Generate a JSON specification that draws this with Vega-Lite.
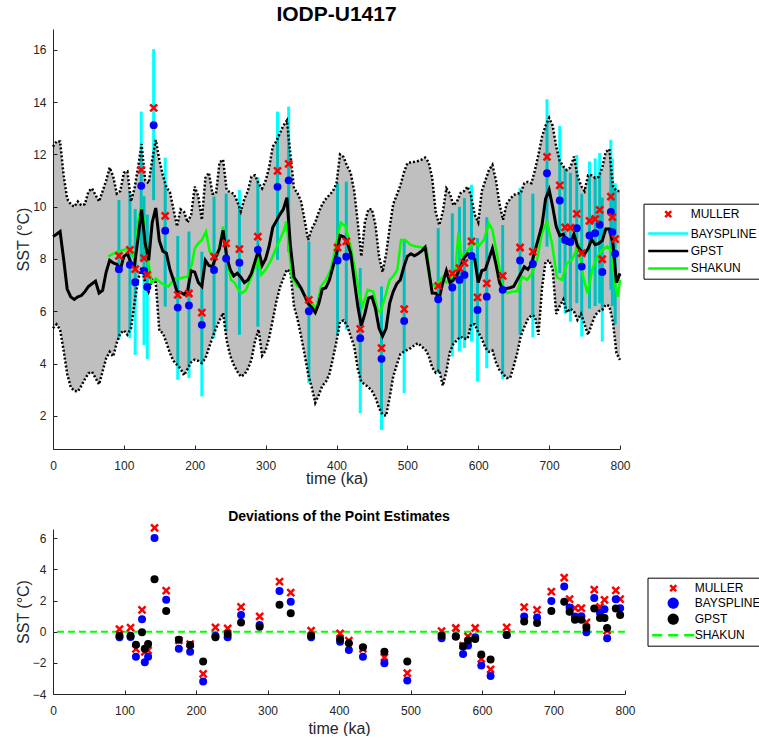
{
"$schema": "https://vega.github.io/schema/vega-lite/v6.json",
"background": "white",
"padding": {"left": 15, "top": 4, "right": 0, "bottom": 0},
"config": {
 "view": {"stroke": null},
 "font": "Liberation Sans",
 "axis": {"grid": false, "labelFlush": false, "domainColor": "#262626", "tickColor": "#262626", "labelColor": "#262626", "titleColor": "#262626", "labelFont": "Liberation Sans", "titleFont": "Liberation Sans", "labelFontSize": 12, "titleFontSize": 16, "titleFontWeight": "normal", "tickSize": -4, "domainWidth": 1, "tickWidth": 1},
 "axisX": {"labelBaseline": "alphabetic", "labelPadding": 24, "titleBaseline": "alphabetic"},
 "axisY": {"labelPadding": 11, "titleBaseline": "alphabetic", "titleAlign": "center", "titleX": -25},
 "legend": {"labelFont": "Liberation Sans", "labelFontSize": 12, "labelColor": "black", "strokeColor": "black", "fillColor": "white", "padding": 4, "cornerRadius": 0, "symbolSize": 100, "symbolStrokeWidth": 2.5}
},
"datasets": {
 "band": [
{"x":0,"lo":5.35,"hi":12.3,"g":8.86},{"x":5,"lo":5.5,"hi":12.5,"g":8.95},{"x":10,"lo":5.3,"hi":12.5,"g":9.05},{"x":15,"lo":4.5,"hi":11.2,"g":8.0},{"x":20,"lo":3.6,"hi":10.3,"g":6.85},{"x":25,"lo":3.1,"hi":10.1,"g":6.55},{"x":30,"lo":2.95,"hi":10.0,"g":6.45},{"x":35,"lo":2.93,"hi":10.2,"g":6.55},{"x":40,"lo":3.15,"hi":10.05,"g":6.6},{"x":45,"lo":3.4,"hi":10.1,"g":6.75},
{"x":50,"lo":3.63,"hi":10.58,"g":6.95},{"x":55,"lo":3.68,"hi":10.7,"g":7.05},{"x":60,"lo":3.45,"hi":10.45,"g":7.15},{"x":65,"lo":3.2,"hi":10.2,"g":6.7},{"x":70,"lo":3.7,"hi":10.6,"g":6.8},{"x":75,"lo":4.2,"hi":11.0,"g":7.5},{"x":80,"lo":4.45,"hi":11.5,"g":7.95},{"x":85,"lo":4.27,"hi":11.15,"g":7.85},{"x":90,"lo":4.8,"hi":10.5,"g":7.8},{"x":95,"lo":5.15,"hi":10.6,"g":7.6},
{"x":100,"lo":5.27,"hi":11.3,"g":8.1},{"x":105,"lo":5.1,"hi":11.35,"g":8.2},{"x":110,"lo":5.35,"hi":10.2,"g":7.85},{"x":115,"lo":6.3,"hi":10.7,"g":7.75},{"x":120,"lo":7.2,"hi":11.5,"g":8.8},{"x":125,"lo":7.7,"hi":12.4,"g":9.9},{"x":130,"lo":7.1,"hi":11.0,"g":8.6},{"x":135,"lo":6.75,"hi":10.9,"g":7.95},{"x":140,"lo":7.2,"hi":11.8,"g":9.4},{"x":145,"lo":7.1,"hi":12.55,"g":9.95},
{"x":150,"lo":5.25,"hi":11.8,"g":8.7},{"x":155,"lo":5.17,"hi":11.2,"g":8.3},{"x":160,"lo":4.8,"hi":10.75,"g":8.22},{"x":165,"lo":4.4,"hi":10.55,"g":7.6},{"x":170,"lo":4.1,"hi":9.9,"g":7.2},{"x":175,"lo":3.95,"hi":9.25,"g":6.75},{"x":180,"lo":3.8,"hi":9.9,"g":6.72},{"x":185,"lo":3.55,"hi":9.8,"g":6.65},{"x":190,"lo":3.8,"hi":9.4,"g":6.8},{"x":195,"lo":4.05,"hi":9.7,"g":7.55},
{"x":200,"lo":4.15,"hi":10.77,"g":7.5},{"x":205,"lo":4.1,"hi":10.4,"g":7.1},{"x":210,"lo":4.02,"hi":9.5,"g":6.95},{"x":215,"lo":4.2,"hi":11.1,"g":7.95},{"x":220,"lo":4.6,"hi":11.3,"g":7.75},{"x":225,"lo":5.0,"hi":10.5,"g":7.7},{"x":230,"lo":5.35,"hi":10.5,"g":8.1},{"x":235,"lo":5.65,"hi":11.7,"g":8.4},{"x":240,"lo":5.93,"hi":11.8,"g":9.1},{"x":245,"lo":4.9,"hi":10.64,"g":8.1},
{"x":250,"lo":4.3,"hi":10.55,"g":7.6},{"x":255,"lo":3.95,"hi":10.5,"g":7.35},{"x":260,"lo":3.7,"hi":10.2,"g":7.45},{"x":265,"lo":3.5,"hi":9.82,"g":7.3},{"x":270,"lo":3.58,"hi":10.3,"g":7.1},{"x":275,"lo":3.8,"hi":10.6,"g":7.2},{"x":280,"lo":4.15,"hi":11.15,"g":7.45},{"x":285,"lo":4.85,"hi":11.2,"g":7.9},{"x":290,"lo":5.3,"hi":10.9,"g":8.35},{"x":295,"lo":4.3,"hi":10.7,"g":7.75},
{"x":300,"lo":4.5,"hi":11.0,"g":8.0},{"x":305,"lo":5.0,"hi":11.5,"g":8.5},{"x":310,"lo":5.65,"hi":12.3,"g":9.2},{"x":315,"lo":6.35,"hi":12.5,"g":9.45},{"x":320,"lo":6.9,"hi":12.8,"g":9.7},{"x":325,"lo":7.25,"hi":13.1,"g":9.9},{"x":330,"lo":7.6,"hi":13.3,"g":10.35},{"x":335,"lo":7.5,"hi":12.0,"g":8.5},{"x":340,"lo":6.2,"hi":10.7,"g":7.3},{"x":345,"lo":5.7,"hi":10.52,"g":7.1},
{"x":350,"lo":5.05,"hi":10.2,"g":6.88},{"x":355,"lo":4.35,"hi":9.5,"g":6.6},{"x":360,"lo":3.6,"hi":8.73,"g":6.3},{"x":365,"lo":3.1,"hi":9.15,"g":6.15},{"x":370,"lo":2.5,"hi":9.4,"g":5.95},{"x":375,"lo":2.8,"hi":9.8,"g":6.3},{"x":380,"lo":3.15,"hi":10.1,"g":6.85},{"x":385,"lo":3.3,"hi":10.3,"g":6.9},{"x":390,"lo":3.6,"hi":10.45,"g":7.2},{"x":395,"lo":4.2,"hi":10.6,"g":7.7},
{"x":400,"lo":4.85,"hi":10.9,"g":8.2},{"x":405,"lo":5.6,"hi":12.0,"g":8.9},{"x":410,"lo":5.65,"hi":11.9,"g":8.85},{"x":415,"lo":5.45,"hi":11.55,"g":8.65},{"x":420,"lo":5.05,"hi":11.3,"g":8.22},{"x":425,"lo":4.65,"hi":10.6,"g":7.2},{"x":430,"lo":3.8,"hi":9.4,"g":6.2},{"x":435,"lo":3.3,"hi":8.1,"g":5.45},{"x":440,"lo":3.2,"hi":9.4,"g":5.9},{"x":445,"lo":3.1,"hi":9.9,"g":6.5},
{"x":450,"lo":2.95,"hi":9.9,"g":6.55},{"x":455,"lo":2.7,"hi":9.3,"g":6.1},{"x":460,"lo":2.3,"hi":8.1,"g":5.35},{"x":465,"lo":2.05,"hi":7.5,"g":5.05},{"x":470,"lo":2.0,"hi":8.2,"g":5.35},{"x":475,"lo":2.7,"hi":9.2,"g":6.3},{"x":480,"lo":3.5,"hi":10.1,"g":6.75},{"x":485,"lo":3.95,"hi":10.45,"g":7.05},{"x":490,"lo":4.35,"hi":10.8,"g":7.2},{"x":495,"lo":4.45,"hi":11.3,"g":7.7},
{"x":500,"lo":4.52,"hi":11.66,"g":8.1},{"x":505,"lo":4.6,"hi":11.7,"g":8.2},{"x":510,"lo":4.7,"hi":11.72,"g":8.12},{"x":515,"lo":4.78,"hi":11.75,"g":8.2},{"x":520,"lo":4.65,"hi":11.8,"g":8.3},{"x":525,"lo":4.55,"hi":11.88,"g":8.45},{"x":530,"lo":4.3,"hi":11.7,"g":7.6},{"x":535,"lo":3.85,"hi":11.1,"g":6.7},{"x":540,"lo":3.65,"hi":9.8,"g":6.69},{"x":545,"lo":3.75,"hi":9.3,"g":6.5},
{"x":550,"lo":3.15,"hi":9.8,"g":7.1},{"x":555,"lo":3.7,"hi":10.7,"g":7.55},{"x":560,"lo":4.45,"hi":10.5,"g":7.1},{"x":565,"lo":4.75,"hi":10.05,"g":7.2},{"x":570,"lo":4.9,"hi":10.2,"g":7.4},{"x":575,"lo":5.03,"hi":10.52,"g":7.7},{"x":580,"lo":4.95,"hi":10.6,"g":8.05},{"x":585,"lo":4.95,"hi":10.77,"g":8.2},{"x":590,"lo":5.5,"hi":10.4,"g":8.1},{"x":595,"lo":5.5,"hi":9.7,"g":8.0},
{"x":600,"lo":5.2,"hi":9.4,"g":7.1},{"x":605,"lo":4.95,"hi":10.6,"g":7.55},{"x":610,"lo":4.6,"hi":11.0,"g":7.6},{"x":615,"lo":4.45,"hi":11.4,"g":8.0},{"x":620,"lo":4.5,"hi":11.6,"g":8.4},{"x":625,"lo":4.05,"hi":11.0,"g":7.8},{"x":630,"lo":3.75,"hi":10.1,"g":7.1},{"x":635,"lo":3.6,"hi":9.5,"g":6.82},{"x":640,"lo":3.45,"hi":10.1,"g":6.87},{"x":645,"lo":3.45,"hi":10.3,"g":6.9},
{"x":650,"lo":3.9,"hi":10.45,"g":6.95},{"x":655,"lo":4.4,"hi":10.5,"g":7.2},{"x":660,"lo":5.05,"hi":10.52,"g":7.45},{"x":665,"lo":5.4,"hi":10.9,"g":7.7},{"x":670,"lo":5.7,"hi":10.95,"g":7.6},{"x":675,"lo":5.85,"hi":10.9,"g":7.8},{"x":680,"lo":5.8,"hi":11.4,"g":8.3},{"x":685,"lo":5.1,"hi":12.0,"g":8.8},{"x":690,"lo":6.9,"hi":12.68,"g":9.3},{"x":695,"lo":7.9,"hi":13.1,"g":10.3},
{"x":700,"lo":7.95,"hi":13.4,"g":10.65},{"x":705,"lo":7.6,"hi":13.1,"g":10.0},{"x":710,"lo":5.9,"hi":12.3,"g":9.24},{"x":715,"lo":6.2,"hi":11.75,"g":8.9},{"x":720,"lo":6.45,"hi":11.54,"g":8.95},{"x":725,"lo":5.95,"hi":11.4,"g":8.6},{"x":730,"lo":6.1,"hi":11.5,"g":8.6},{"x":735,"lo":6.0,"hi":11.92,"g":8.95},{"x":740,"lo":5.67,"hi":11.2,"g":8.5},{"x":745,"lo":5.9,"hi":10.8,"g":8.3},
{"x":750,"lo":5.5,"hi":10.6,"g":8.2},{"x":755,"lo":5.1,"hi":11.2,"g":8.4},{"x":760,"lo":5.5,"hi":11.2,"g":8.75},{"x":765,"lo":5.85,"hi":11.1,"g":8.55},{"x":770,"lo":6.0,"hi":11.15,"g":8.6},{"x":775,"lo":6.05,"hi":11.5,"g":8.7},{"x":780,"lo":6.25,"hi":12.1,"g":9.15},{"x":785,"lo":6.2,"hi":12.2,"g":9.15},{"x":790,"lo":5.6,"hi":10.8,"g":8.6},{"x":795,"lo":4.4,"hi":10.6,"g":7.1},
{"x":800,"lo":4.14,"hi":10.6,"g":7.45}
 ],
 "shakun": [
{"x":78,"v":8.1},{"x":85,"v":8.2},{"x":92,"v":8.3},{"x":100,"v":8.35},{"x":107,"v":8.41},{"x":112,"v":8.2},{"x":116,"v":7.9},{"x":120,"v":9.4},{"x":124,"v":9.94},{"x":128,"v":9.5},{"x":131,"v":8.3},{"x":135,"v":7.8},{"x":139,"v":7.1},{"x":145,"v":7.25},{"x":153,"v":7.07},{"x":163,"v":6.95},{"x":172,"v":7.26},{"x":180,"v":7.26},{"x":190,"v":7.33},{"x":196,"v":7.8},{"x":200,"v":8.4},{"x":205,"v":8.6},{"x":210,"v":8.73},{"x":216,"v":9.05},{"x":221,"v":8.3},{"x":226,"v":8.1},{"x":233,"v":8.15},{"x":240,"v":9.24},{"x":245,"v":8.2},{"x":251,"v":7.2},{"x":256,"v":7.1},{"x":262,"v":6.8},{"x":266,"v":6.69},{"x":272,"v":6.8},{"x":280,"v":7.33},{"x":289,"v":8.0},{"x":294,"v":7.4},{"x":300,"v":7.6},{"x":308,"v":7.97},{"x":313,"v":8.3},{"x":320,"v":8.73},{"x":326,"v":9.1},{"x":329,"v":9.43},{"x":333,"v":8.5},{"x":337,"v":7.3},{"x":345,"v":6.95},{"x":350,"v":6.9},{"x":357,"v":6.5},{"x":366,"v":6.31},{"x":371,"v":6.05},{"x":378,"v":6.95},{"x":385,"v":7.2},{"x":392,"v":7.6},{"x":397,"v":8.22},{"x":402,"v":8.9},{"x":406,"v":9.39},{"x":413,"v":9.24},{"x":420,"v":8.48},{"x":427,"v":7.46},{"x":432,"v":6.7},{"x":437,"v":6.2},{"x":444,"v":6.82},{"x":452,"v":6.75},{"x":458,"v":6.05},{"x":462,"v":5.95},{"x":470,"v":6.69},{"x":475,"v":7.2},{"x":480,"v":7.33},{"x":486,"v":7.6},{"x":491,"v":8.73},{"x":497,"v":8.73},{"x":504,"v":8.55},{"x":512,"v":8.48},{"x":520,"v":8.45},{"x":527,"v":8.42},{"x":533,"v":7.07},{"x":540,"v":6.95},{"x":549,"v":7.3},{"x":555,"v":7.1},{"x":562,"v":7.3},{"x":568,"v":7.6},{"x":572,"v":9.0},{"x":576,"v":8.1},{"x":582,"v":8.2},{"x":589,"v":8.48},{"x":596,"v":8.6},{"x":601,"v":8.5},{"x":608,"v":8.73},{"x":615,"v":9.37},{"x":620,"v":9.12},{"x":627,"v":8.1},{"x":634,"v":6.95},{"x":641,"v":6.69},{"x":648,"v":6.76},{"x":655,"v":6.76},{"x":662,"v":7.33},{"x":669,"v":7.2},{"x":676,"v":7.46},{"x":683,"v":7.97},{"x":690,"v":9.0},{"x":697,"v":9.43},{"x":704,"v":8.6},{"x":711,"v":7.3},{"x":718,"v":7.2},{"x":725,"v":7.84},{"x":732,"v":7.97},{"x":739,"v":8.35},{"x":742,"v":8.6},{"x":747,"v":7.46},{"x":754,"v":6.69},{"x":761,"v":7.59},{"x":768,"v":8.1},{"x":775,"v":8.35},{"x":782,"v":8.48},{"x":788,"v":8.3},{"x":793,"v":7.0},{"x":797,"v":6.56},{"x":800,"v":7.2}
 ],
 "pts": [
{"x":93,"m":8.12,"b":7.61,"lo":4.91,"hi":10.26,"dm":0.17,"db":-0.36,"dg":-0.25},
{"x":108.5,"m":8.35,"b":7.78,"lo":4.97,"hi":10.58,"dm":0.26,"db":-0.34,"dg":-0.25},
{"x":116,"m":7.61,"b":7.11,"lo":4.33,"hi":9.91,"dm":-1.1,"db":-1.6,"dg":-0.83},
{"x":124.5,"m":11.41,"b":10.8,"lo":7.95,"hi":13.64,"dm":1.41,"db":0.81,"dg":-0.04},
{"x":128.4,"m":8.03,"b":7.55,"lo":4.7,"hi":10.4,"dm":-1.3,"db":-1.96,"dg":-1.1},
{"x":133,"m":7.39,"b":6.93,"lo":4.17,"hi":9.7,"dm":-1.2,"db":-1.6,"dg":-0.79},
{"x":142,"m":13.78,"b":13.12,"lo":10.25,"hi":16.03,"dm":6.67,"db":6.02,"dg":3.37},
{"x":158.3,"m":9.65,"b":9.08,"lo":6.18,"hi":11.88,"dm":2.64,"db":2.05,"dg":1.34},
{"x":176,"m":6.63,"b":6.14,"lo":3.38,"hi":8.88,"dm":-0.55,"db":-1.1,"dg":-0.51},
{"x":191.8,"m":6.68,"b":6.22,"lo":3.44,"hi":9.05,"dm":-0.8,"db":-1.28,"dg":-0.85},
{"x":210,"m":5.95,"b":5.48,"lo":2.74,"hi":8.28,"dm":-2.7,"db":-3.19,"dg":-1.92},
{"x":227.2,"m":8.09,"b":7.58,"lo":4.97,"hi":10.39,"dm":0.28,"db":-0.25,"dg":-0.36},
{"x":244.3,"m":8.6,"b":8.02,"lo":5.22,"hi":10.5,"dm":0.22,"db":-0.36,"dg":-0.15},
{"x":263,"m":8.38,"b":7.86,"lo":5.1,"hi":10.64,"dm":1.6,"db":1.07,"dg":0.6},
{"x":289,"m":8.86,"b":8.35,"lo":5.41,"hi":11.13,"dm":0.98,"db":0.43,"dg":0.32},
{"x":316.8,"m":11.37,"b":10.76,"lo":7.97,"hi":13.64,"dm":3.22,"db":2.62,"dg":1.73},
{"x":332.5,"m":11.64,"b":11.01,"lo":8.28,"hi":13.83,"dm":2.51,"db":1.92,"dg":1.19},
{"x":361,"m":6.44,"b":6.0,"lo":3.25,"hi":8.67,"dm":0.07,"db":-0.36,"dg":-0.25},
{"x":401.5,"m":8.44,"b":7.94,"lo":5.1,"hi":10.9,"dm":-0.1,"db":-0.64,"dg":-0.47},
{"x":413.8,"m":8.67,"b":8.09,"lo":5.29,"hi":10.96,"dm":-0.57,"db":-1.17,"dg":-0.74},
{"x":433.5,"m":5.33,"b":4.97,"lo":2.1,"hi":7.65,"dm":-1.1,"db":-1.6,"dg":-1.0},
{"x":463.5,"m":4.59,"b":4.18,"lo":1.46,"hi":6.95,"dm":-1.64,"db":-2.02,"dg":-1.28},
{"x":495.5,"m":6.08,"b":5.63,"lo":2.87,"hi":8.73,"dm":-2.66,"db":-3.13,"dg":-1.92},
{"x":543.5,"m":6.97,"b":6.46,"lo":3.64,"hi":9.18,"dm":0.04,"db":-0.42,"dg":-0.25},
{"x":563.4,"m":7.44,"b":6.91,"lo":4.27,"hi":9.75,"dm":0.24,"db":-0.3,"dg":-0.3},
{"x":573.5,"m":7.65,"b":7.2,"lo":4.46,"hi":10.0,"dm":-0.9,"db":-1.43,"dg":-0.94},
{"x":580.5,"m":7.85,"b":7.39,"lo":4.59,"hi":10.33,"dm":-0.3,"db":-0.89,"dg":-0.57},
{"x":590.5,"m":8.67,"b":8.12,"lo":4.85,"hi":10.84,"dm":0.24,"db":-0.36,"dg":-0.47},
{"x":599,"m":6.53,"b":6.05,"lo":3.31,"hi":8.8,"dm":-1.74,"db":-2.17,"dg":-1.47},
{"x":612,"m":7.07,"b":6.56,"lo":3.82,"hi":9.6,"dm":-2.42,"db":-2.85,"dg":-1.79},
{"x":634.5,"m":7.35,"b":6.82,"lo":3.4,"hi":9.3,"dm":0.28,"db":-0.21,"dg":-0.21},
{"x":659,"m":8.44,"b":7.94,"lo":5.1,"hi":10.71,"dm":1.58,"db":0.98,"dg":0.66},
{"x":677,"m":8.28,"b":7.81,"lo":5.0,"hi":10.5,"dm":1.41,"db":0.92,"dg":0.56},
{"x":697,"m":11.91,"b":11.28,"lo":8.47,"hi":14.11,"dm":2.58,"db":1.98,"dg":1.34},
{"x":715,"m":10.82,"b":10.24,"lo":7.46,"hi":13.09,"dm":3.47,"db":2.9,"dg":1.92},
{"x":722.5,"m":9.21,"b":8.73,"lo":5.9,"hi":11.47,"dm":2.09,"db":1.56,"dg":1.28},
{"x":730,"m":9.2,"b":8.65,"lo":5.6,"hi":11.3,"dm":1.51,"db":0.98,"dg":0.77},
{"x":739,"m":9.73,"b":9.18,"lo":6.31,"hi":11.98,"dm":1.51,"db":1.0,"dg":0.77},
{"x":746,"m":8.22,"b":7.71,"lo":5.03,"hi":10.5,"dm":0.6,"db":-0.04,"dg":0.28},
{"x":757,"m":9.46,"b":8.9,"lo":6.1,"hi":11.73,"dm":2.71,"db":2.17,"dg":1.49},
{"x":765,"m":9.53,"b":8.99,"lo":6.2,"hi":11.85,"dm":1.6,"db":1.2,"dg":0.88},
{"x":771.3,"m":9.88,"b":9.31,"lo":6.3,"hi":12.05,"dm":2.05,"db":1.45,"dg":0.88},
{"x":775,"m":7.99,"b":7.5,"lo":4.84,"hi":10.35,"dm":0.07,"db":-0.42,"dg":0.24},
{"x":787.1,"m":10.39,"b":9.8,"lo":6.82,"hi":12.56,"dm":2.66,"db":2.09,"dg":1.49},
{"x":789.2,"m":9.6,"b":9.03,"lo":6.2,"hi":11.85,"dm":null,"db":null,"dg":null},
{"x":793.2,"m":8.76,"b":8.2,"lo":5.5,"hi":10.9,"dm":2.09,"db":1.51,"dg":1.07}
 ]
},
"spacing": 80,
"bounds": "flush",
"resolve": {"scale": {"color": "independent", "x": "independent", "y": "independent"}, "legend": {"color": "independent"}},
"vconcat": [
 {
  "width": 567, "height": 420,
  "title": {"text": "IODP-U1417", "font": "Liberation Sans", "fontSize": 21, "fontWeight": "bold", "color": "black", "anchor": "middle", "frame": "group", "offset": 4},
  "encoding": {"x": {"field": "x", "type": "quantitative", "scale": {"domain": [0, 800], "nice": false, "zero": false}, "axis": {"values": [0,100,200,300,400,500,600,700,800], "title": "time (ka)", "titleY": 34}}},
  "layer": [
   {"data": {"name": "pts"}, "mark": {"type": "rule", "strokeWidth": 3},
    "encoding": {
     "y": {"field": "lo", "type": "quantitative", "scale": {"domain": [0.73, 16.8], "nice": false, "zero": false}, "axis": {"values": [2,4,6,8,10,12,14,16], "title": "SST (°C)", "titleY": 210}},
     "y2": {"field": "hi"},
     "color": {"datum": "BAYSPLINE", "type": "nominal",
      "scale": {"domain": ["MULLER", "BAYSPLINE", "GPST", "SHAKUN"], "range": ["#ff0000", "#00ffff", "#000000", "#00ff00"]},
      "legend": {"title": null, "orient": "none", "legendX": 590.5, "legendY": 174.7, "symbolOffset": 14.2, "labelOffset": 16, "rowPadding": 4.4,
       "encoding": {"symbols": {
        "shape": {"condition": {"test": "datum.value === 'MULLER'", "value": "M-0.6,-0.6L0.6,0.6M-0.6,0.6L0.6,-0.6"}, "value": "M-4,0L4,0"},
        "stroke": {"condition": [{"test": "datum.value === 'MULLER'", "value": "#ff0000"}, {"test": "datum.value === 'BAYSPLINE'", "value": "#00ffff"}, {"test": "datum.value === 'GPST'", "value": "#000000"}], "value": "#00ff00"},
        "fill": {"value": "transparent"},
        "strokeWidth": {"value": 2.5}
       }}}}}
   },
   {"data": {"name": "band"}, "mark": {"type": "area", "color": "#000000", "opacity": 0.25},
    "encoding": {"y": {"field": "hi", "type": "quantitative", "scale": {"domain": [0.73, 16.8], "nice": false, "zero": false}, "axis": {"values": [2,4,6,8,10,12,14,16], "title": "SST (°C)", "titleY": 210}}, "y2": {"field": "lo"}}},
   {"data": {"name": "band"}, "mark": {"type": "line", "color": "#000000", "strokeWidth": 2.5, "strokeDash": [2, 2]},
    "encoding": {"y": {"field": "hi", "type": "quantitative", "scale": {"domain": [0.73, 16.8], "nice": false, "zero": false}, "axis": {"values": [2,4,6,8,10,12,14,16], "title": "SST (°C)", "titleY": 210}}}},
   {"data": {"name": "band"}, "mark": {"type": "line", "color": "#000000", "strokeWidth": 2.5, "strokeDash": [2, 2]},
    "encoding": {"y": {"field": "lo", "type": "quantitative", "scale": {"domain": [0.73, 16.8], "nice": false, "zero": false}, "axis": {"values": [2,4,6,8,10,12,14,16], "title": "SST (°C)", "titleY": 210}}}},
   {"data": {"name": "shakun"}, "mark": {"type": "line", "strokeWidth": 2.5},
    "encoding": {"y": {"field": "v", "type": "quantitative", "scale": {"domain": [0.73, 16.8], "nice": false, "zero": false}, "axis": {"values": [2,4,6,8,10,12,14,16], "title": "SST (°C)", "titleY": 210}}, "color": {"datum": "SHAKUN", "type": "nominal"}}},
   {"data": {"name": "band"}, "mark": {"type": "line", "strokeWidth": 3},
    "encoding": {"y": {"field": "g", "type": "quantitative", "scale": {"domain": [0.73, 16.8], "nice": false, "zero": false}, "axis": {"values": [2,4,6,8,10,12,14,16], "title": "SST (°C)", "titleY": 210}}, "color": {"datum": "GPST", "type": "nominal"}}},
   {"data": {"name": "pts"}, "mark": {"type": "circle", "size": 62, "color": "#0000ff", "opacity": 1},
    "encoding": {"y": {"field": "b", "type": "quantitative", "scale": {"domain": [0.73, 16.8], "nice": false, "zero": false}, "axis": {"values": [2,4,6,8,10,12,14,16], "title": "SST (°C)", "titleY": 210}}}},
   {"data": {"name": "pts"}, "mark": {"type": "point", "shape": "M-0.7,-0.7L0.7,0.7M-0.7,0.7L0.7,-0.7", "size": 100, "strokeWidth": 2.5, "filled": false, "opacity": 1},
    "encoding": {"y": {"field": "m", "type": "quantitative", "scale": {"domain": [0.73, 16.8], "nice": false, "zero": false}, "axis": {"values": [2,4,6,8,10,12,14,16], "title": "SST (°C)", "titleY": 210}}, "color": {"datum": "MULLER", "type": "nominal"}}}
  ]
 },
 {
  "width": 572, "height": 165,
  "title": {"text": "Deviations of the Point Estimates", "font": "Liberation Sans", "fontSize": 14, "fontWeight": "bold", "color": "black", "anchor": "middle", "frame": "group", "offset": -4.5},
  "layer": [
   {"data": {"values": [{}]}, "mark": {"type": "rule", "strokeWidth": 2, "strokeDash": [7, 4]},
    "encoding": {
     "y": {"datum": 0, "type": "quantitative", "scale": {"domain": [-4, 6.6], "nice": false, "zero": false}, "axis": {"values": [-4,-2,0,2,4,6], "title": "SST (°C)", "titleY": 82.5}},
     "color": {"datum": "SHAKUN", "type": "nominal",
      "scale": {"domain": ["MULLER", "BAYSPLINE", "GPST", "SHAKUN"], "range": ["#ff0000", "#0000ff", "#000000", "#00ff00"]},
      "legend": {"title": null, "orient": "none", "legendX": 594.5, "legendY": 48.7, "symbolOffset": 15.2, "labelOffset": 15, "rowPadding": -3.9,
       "encoding": {"symbols": {
        "shape": {"condition": [{"test": "datum.value === 'MULLER'", "value": "M-0.6,-0.6L0.6,0.6M-0.6,0.6L0.6,-0.6"}, {"test": "datum.value === 'SHAKUN'", "value": "M-4.2,0L4.2,0"}], "value": "M-0.87,0A0.87,0.87,0,1,0,0.87,0A0.87,0.87,0,1,0,-0.87,0Z"},
        "stroke": {"condition": [{"test": "datum.value === 'MULLER'", "value": "#ff0000"}, {"test": "datum.value === 'SHAKUN'", "value": "#00ff00"}], "value": "transparent"},
        "fill": {"condition": [{"test": "datum.value === 'BAYSPLINE'", "value": "#0000ff"}, {"test": "datum.value === 'GPST'", "value": "#000000"}], "value": "transparent"},
        "strokeDash": {"condition": {"test": "datum.value === 'SHAKUN'", "value": [10, 6]}, "value": [1, 0]},
        "strokeWidth": {"value": 2.5}
       }}}}}
   },
   {"data": {"name": "pts"}, "mark": {"type": "point", "shape": "M-0.7,-0.7L0.7,0.7M-0.7,0.7L0.7,-0.7", "size": 100, "strokeWidth": 2.5, "filled": false, "opacity": 1},
    "encoding": {
     "x": {"field": "x", "type": "quantitative", "scale": {"domain": [0, 800], "nice": false, "zero": false}, "axis": {"values": [0,100,200,300,400,500,600,700,800], "title": "time (ka)", "titleY": 39}},
     "y": {"field": "dm", "type": "quantitative", "scale": {"domain": [-4, 6.6], "nice": false, "zero": false}, "axis": {"values": [-4,-2,0,2,4,6], "title": "SST (°C)", "titleY": 82.5}}, "color": {"datum": "MULLER", "type": "nominal"}}},
   {"data": {"name": "pts"}, "mark": {"type": "circle", "size": 64, "opacity": 1},
    "encoding": {
     "x": {"field": "x", "type": "quantitative", "scale": {"domain": [0, 800], "nice": false, "zero": false}, "axis": {"values": [0,100,200,300,400,500,600,700,800], "title": "time (ka)", "titleY": 39}},
     "y": {"field": "db", "type": "quantitative", "scale": {"domain": [-4, 6.6], "nice": false, "zero": false}, "axis": {"values": [-4,-2,0,2,4,6], "title": "SST (°C)", "titleY": 82.5}}, "color": {"datum": "BAYSPLINE", "type": "nominal"}}},
   {"data": {"name": "pts"}, "mark": {"type": "circle", "size": 64, "opacity": 1},
    "encoding": {
     "x": {"field": "x", "type": "quantitative", "scale": {"domain": [0, 800], "nice": false, "zero": false}, "axis": {"values": [0,100,200,300,400,500,600,700,800], "title": "time (ka)", "titleY": 39}},
     "y": {"field": "dg", "type": "quantitative", "scale": {"domain": [-4, 6.6], "nice": false, "zero": false}, "axis": {"values": [-4,-2,0,2,4,6], "title": "SST (°C)", "titleY": 82.5}}, "color": {"datum": "GPST", "type": "nominal"}}}
  ]
 }
]
}
